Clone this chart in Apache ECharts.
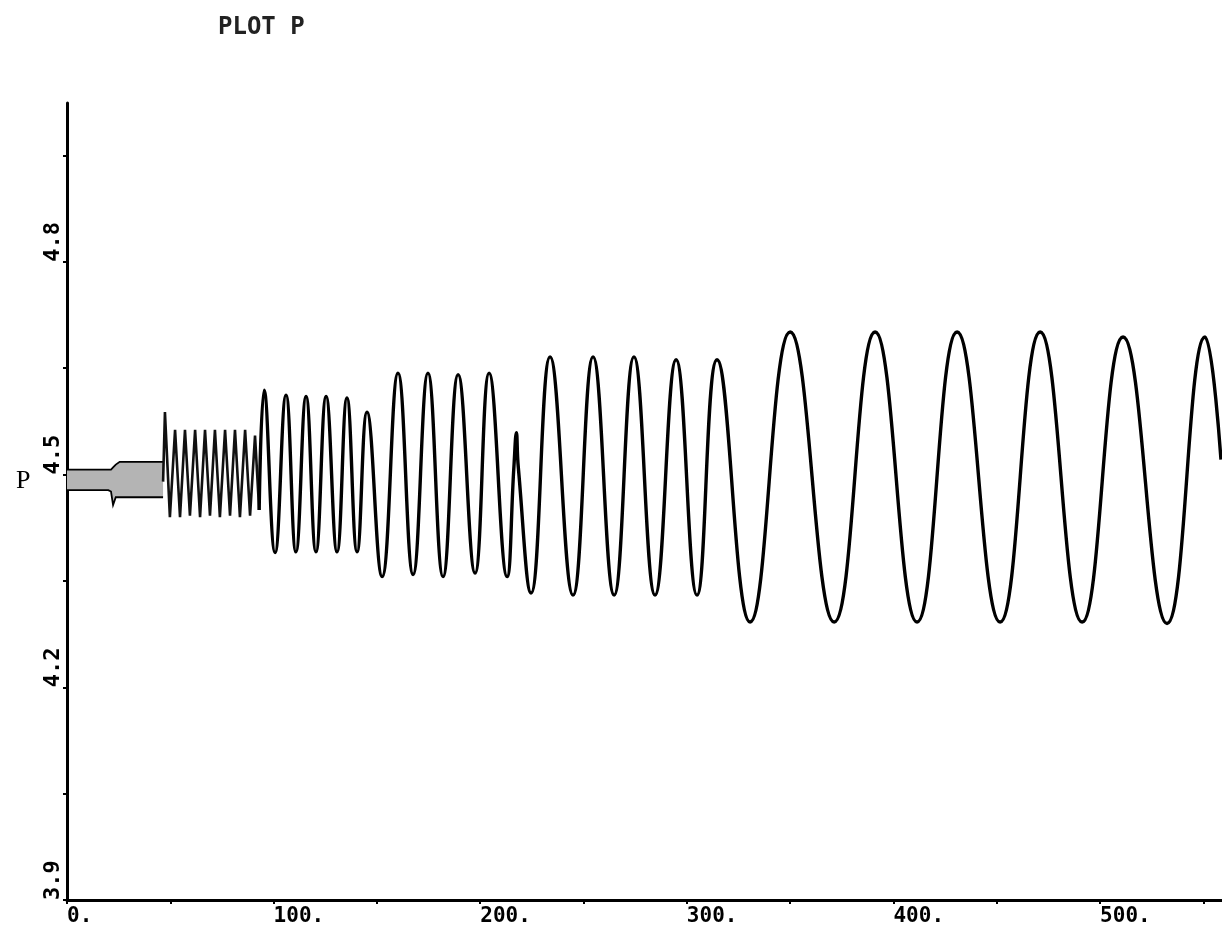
<!DOCTYPE html>
<html>
<head>
<meta charset="utf-8">
<script src="https://cdn.jsdelivr.net/npm/echarts@6/dist/echarts.min.js"></script>
<style>
html,body{margin:0;padding:0;background:#fff;}
#chart{width:1222px;height:936px;}
</style>
</head>
<body>
<div id="chart"></div>
<script>
// ---- data ----
const chartTitle = 'PLOT P';
const yName = 'P';
const yTickLabels = ['3.9', '4.2', '4.5', '4.8'];
const xTickLabels = ['0.', '100.', '200.', '300.', '400.', '500.'];

// early high-frequency band (drawn as lower/upper envelope)
const bandX    = [0,     10,    20,    21.3,  22.3,  23.6,  25.5,  35,    46.5];
const bandLow  = [4.478, 4.478, 4.478, 4.476, 4.457, 4.468, 4.468, 4.468, 4.468];
const bandHigh = [4.507, 4.507, 4.507, 4.507, 4.510, 4.514, 4.518, 4.518, 4.518];

// dense fast oscillation section
const denseX = [46.5, 47.4, 49.8, 52.3, 54.7, 57.1, 59.5, 62.0, 64.4, 66.8, 69.2, 71.6, 74.0, 76.5, 78.9, 81.3, 83.7, 86.2, 88.6, 91.0, 93.0];
const denseP = [4.49, 4.588, 4.440, 4.563, 4.440, 4.563, 4.442, 4.563, 4.440, 4.563, 4.442, 4.563, 4.440, 4.563, 4.442, 4.563, 4.440, 4.563, 4.442, 4.555, 4.45];

// main oscillation: peaks and troughs
const waveX = [93.0, 95.4, 100.7, 106.0, 110.8, 115.7, 120.5, 125.4, 130.7, 135.5, 140.4, 145.2, 152.5, 160.2, 167.5, 174.7, 182.0, 189.3, 197.5, 204.3, 213.0, 216.3, 217.5, 218.4, 224.6, 233.8, 244.9, 254.6, 264.8, 274.4, 284.6, 294.8, 304.9, 314.6, 330.6, 350.0, 371.3, 391.1, 411.4, 430.8, 451.6, 471.0, 491.3, 511.1, 532.4, 550.8, 558.5];
const waveP = [4.45, 4.619, 4.390, 4.612, 4.391, 4.610, 4.391, 4.610, 4.391, 4.608, 4.391, 4.588, 4.356, 4.643, 4.359, 4.643, 4.356, 4.641, 4.361, 4.643, 4.356, 4.511, 4.559, 4.511, 4.333, 4.666, 4.330, 4.666, 4.330, 4.666, 4.330, 4.662, 4.330, 4.662, 4.292, 4.701, 4.292, 4.701, 4.292, 4.701, 4.292, 4.701, 4.292, 4.694, 4.290, 4.694, 4.521];

// ---- build ----
const zip = (xs, ys) => xs.map((x, i) => [x, ys[i]]);
const bandData = bandX.map((x, i) => [x, bandLow[i], bandHigh[i]]);

const chart = echarts.init(document.getElementById('chart'), null, {renderer: 'canvas'});
const monoBold = {fontFamily: '"DejaVu Sans Mono", monospace', fontWeight: 'bold', color: '#000'};

chart.setOption({
  backgroundColor: '#fff',
  animation: false,
  title: [
    {text: chartTitle, left: 213, top: 11,
     textStyle: {fontSize: 24, color: '#222', fontFamily: '"DejaVu Sans Mono", monospace', fontWeight: 'bold'}},
    {text: yName, left: 11, top: 463,
     textStyle: {fontFamily: '"Liberation Serif", serif', fontSize: 26, fontWeight: 'normal', color: '#000'}}
  ],
  grid: {left: 67, right: 0, top: 103, bottom: 36, containLabel: false},
  xAxis: {
    type: 'value', min: 0, max: 559, interval: 50,
    axisLine: {show: true, lineStyle: {color: '#000', width: 3}},
    axisTick: {show: true, length: 4, lineStyle: {color: '#000', width: 2}},
    splitLine: {show: false},
    axisLabel: Object.assign({
      fontSize: 21, margin: 6, align: 'left', showMaxLabel: false,
      formatter: v => {
        const k = Math.round(v / 100);
        return (Math.abs(v - k * 100) < 1e-6 && xTickLabels[k] !== undefined) ? xTickLabels[k] : '';
      }
    }, monoBold)
  },
  yAxis: {
    type: 'value', min: 3.9, max: 5.024, interval: 0.15,
    axisLine: {show: true, lineStyle: {color: '#000', width: 3}},
    axisTick: {show: true, length: 4, lineStyle: {color: '#000', width: 2}},
    splitLine: {show: false},
    axisLabel: Object.assign({
      fontSize: 22, margin: 3, rotate: 90, align: 'left', verticalAlign: 'bottom', showMaxLabel: false,
      formatter: v => {
        const k = Math.round((v - 3.9) / 0.15);
        if (Math.abs(v - (3.9 + k * 0.15)) > 1e-6 || k % 2 !== 0) return '';
        return yTickLabels[k / 2] !== undefined ? yTickLabels[k / 2] : '';
      }
    }, monoBold)
  },
  series: [
    {
      name: 'band', type: 'custom', z: 3,
      data: [0],
      renderItem: function (params, api) {
        const upper = bandData.map(d => api.coord([d[0], d[2]]));
        const lower = bandData.map(d => api.coord([d[0], d[1]])).reverse();
        return {
          type: 'group',
          children: [
            {type: 'polygon', shape: {points: upper.concat(lower)},
             style: {fill: '#b4b4b4', stroke: null}},
            {type: 'polyline', shape: {points: upper},
             style: {fill: null, stroke: '#000', lineWidth: 1.8}},
            {type: 'polyline', shape: {points: lower},
             style: {fill: null, stroke: '#000', lineWidth: 1.8}}
          ]
        };
      }
    },
    {
      name: 'dense', type: 'line', data: zip(denseX, denseP), symbol: 'none', smooth: false,
      lineStyle: {color: '#111', width: 2.6}, z: 4
    },
    {
      name: 'P', type: 'line', data: zip(waveX, waveP), symbol: 'none', smooth: 0.45,
      lineStyle: {color: '#000', width: 3.4}, z: 5
    }
  ]
});
</script>
</body>
</html>
